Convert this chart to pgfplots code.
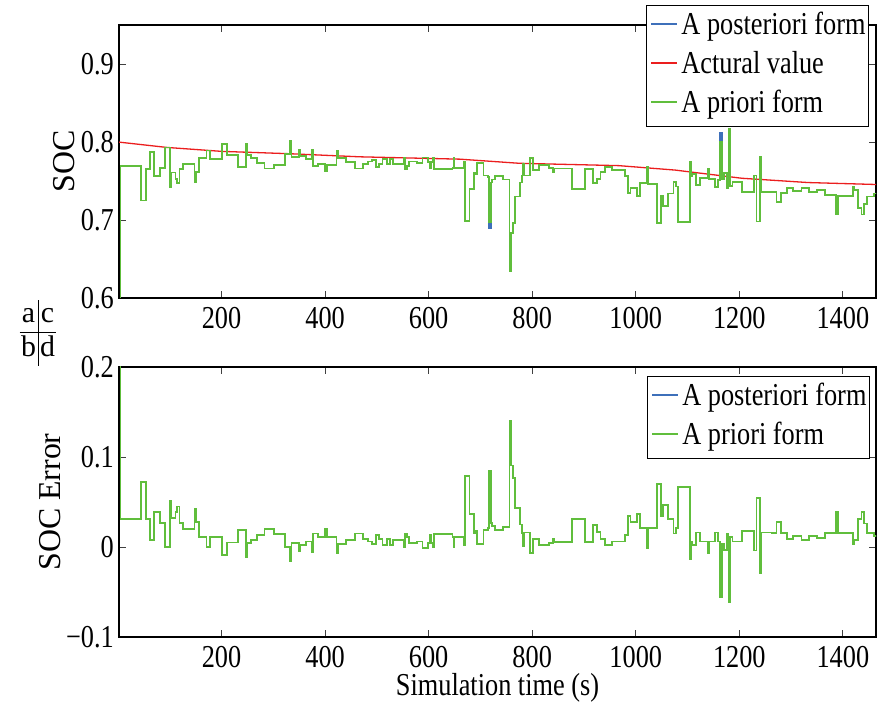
\documentclass[border=0pt]{standalone}
\usepackage{pgfplots}
\pgfplotsset{compat=1.18}
\usepackage{pgfplotstable}
\usepackage{fontspec}
\setmainfont[FakeStretch=0.825]{Liberation Serif}
\newfontfamily\plainserif{Liberation Serif}
\definecolor{postblue}{RGB}{62,112,186}
\definecolor{priogreen}{RGB}{96,190,60}
\definecolor{actred}{RGB}{235,30,30}

\pgfplotstableread{
x prio post eprio epost
0 0.580 0.580 0.2200 0.2200
5 0.769 0.769 0.0310 0.0310
44 0.725 0.725 0.0720 0.0720
54 0.765 0.765 0.0310 0.0310
62 0.787 0.787 0.0080 0.0080
69 0.756 0.756 0.0390 0.0390
81 0.767 0.767 0.0270 0.0270
91 0.793 0.793 0.0000 0.0000
100 0.742 0.742 0.0510 0.0510
102 0.761 0.761 0.0320 0.0320
111 0.753 0.753 0.0390 0.0390
114 0.747 0.747 0.0450 0.0450
119 0.765 0.765 0.0270 0.0270
126 0.772 0.772 0.0200 0.0200
148 0.749 0.749 0.0420 0.0420
150 0.762 0.762 0.0280 0.0280
156 0.779 0.779 0.0115 0.0115
171 0.789 0.789 0.0000 0.0000
177 0.778 0.778 0.0110 0.0110
201 0.797 0.797 -0.0090 -0.0090
210 0.783 0.783 0.0050 0.0050
232 0.768 0.768 0.0190 0.0190
248 0.798 0.798 -0.0110 -0.0110
250 0.783 0.783 0.0040 0.0040
257 0.779 0.779 0.0080 0.0080
269 0.773 0.773 0.0130 0.0130
283 0.766 0.766 0.0200 0.0200
301 0.771 0.771 0.0145 0.0145
322 0.785 0.785 0.0000 0.0000
333 0.801 0.801 -0.0160 -0.0160
335 0.781 0.781 0.0040 0.0040
349 0.790 0.790 -0.0050 -0.0050
351 0.782 0.782 0.0020 0.0020
363 0.778 0.778 0.0060 0.0060
374 0.790 0.790 -0.0060 -0.0060
377 0.769 0.769 0.0150 0.0150
387 0.772 0.772 0.0115 0.0115
400 0.763 0.763 0.0200 0.0200
403 0.771 0.771 0.0115 0.0115
422 0.789 0.789 -0.0070 -0.0070
425 0.779 0.779 0.0030 0.0030
440 0.774 0.774 0.0080 0.0080
458 0.766 0.766 0.0150 0.0150
473 0.772 0.772 0.0085 0.0085
483 0.775 0.775 0.0060 0.0060
490 0.777 0.777 0.0035 0.0035
498 0.768 0.768 0.0130 0.0130
504 0.772 0.772 0.0085 0.0085
511 0.778 0.778 0.0020 0.0020
519 0.772 0.772 0.0085 0.0085
526 0.778 0.778 0.0025 0.0025
531 0.772 0.772 0.0080 0.0080
552 0.780 0.780 -0.0005 -0.0005
554 0.765 0.765 0.0150 0.0150
558 0.769 0.769 0.0110 0.0110
562 0.775 0.775 0.0045 0.0045
578 0.773 0.773 0.0060 0.0060
588 0.780 0.780 -0.0010 -0.0010
599 0.774 0.774 0.0045 0.0045
602 0.766 0.766 0.0130 0.0130
605 0.774 0.774 0.0045 0.0045
609 0.779 0.779 -0.0005 -0.0005
611 0.765 0.765 0.0140 0.0140
646 0.767 0.767 0.0110 0.0110
648 0.779 0.779 -0.0005 -0.0005
650 0.767 0.767 0.0110 0.0110
669 0.775 0.775 0.0025 0.0025
670 0.699 0.699 0.0786 0.0786
679 0.740 0.740 0.0370 0.0370
687 0.761 0.761 0.0155 0.0155
690 0.759 0.759 0.0180 0.0180
693 0.773 0.773 0.0035 0.0035
706 0.757 0.757 0.0190 0.0190
715 0.755 0.755 0.0210 0.0210
717 0.697 0.690 0.0850 0.0850
720 0.748 0.748 0.0270 0.0270
723 0.752 0.752 0.0230 0.0230
728 0.756 0.756 0.0185 0.0185
743 0.752 0.752 0.0225 0.0225
756 0.634 0.634 0.1400 0.1400
759 0.683 0.683 0.0905 0.0905
763 0.696 0.696 0.0770 0.0770
767 0.730 0.730 0.0430 0.0430
776 0.748 0.748 0.0250 0.0250
780 0.757 0.757 0.0155 0.0155
782 0.772 0.772 0.0010 0.0010
785 0.757 0.757 0.0160 0.0160
796 0.779 0.779 -0.0070 -0.0070
801 0.764 0.764 0.0085 0.0085
813 0.770 0.770 0.0025 0.0025
833 0.767 0.767 0.0045 0.0045
840 0.762 0.762 0.0095 0.0095
843 0.766 0.766 0.0055 0.0055
877 0.740 0.740 0.0310 0.0310
902 0.765 0.765 0.0055 0.0055
918 0.747 0.747 0.0240 0.0240
925 0.753 0.753 0.0170 0.0170
932 0.762 0.762 0.0085 0.0085
940 0.768 0.768 0.0025 0.0025
954 0.764 0.764 0.0060 0.0060
980 0.756 0.756 0.0130 0.0130
985 0.735 0.735 0.0340 0.0340
990 0.741 0.741 0.0280 0.0280
1003 0.731 0.731 0.0370 0.0370
1008 0.747 0.747 0.0210 0.0210
1022 0.768 0.768 -0.0015 -0.0015
1024 0.746 0.746 0.0210 0.0210
1041 0.696 0.696 0.0700 0.0700
1049 0.731 0.731 0.0340 0.0340
1052 0.718 0.718 0.0470 0.0470
1063 0.734 0.734 0.0310 0.0310
1073 0.749 0.749 0.0150 0.0150
1077 0.743 0.743 0.0210 0.0210
1081 0.697 0.697 0.0670 0.0670
1104 0.775 0.775 -0.0130 -0.0130
1106 0.756 0.756 0.0060 0.0060
1108 0.759 0.759 0.0020 0.0020
1116 0.745 0.745 0.0160 0.0160
1124 0.754 0.754 0.0060 0.0060
1139 0.766 0.766 -0.0070 -0.0070
1141 0.753 0.753 0.0060 0.0060
1153 0.742 0.742 0.0160 0.0160
1159 0.751 0.751 0.0060 0.0060
1163 0.800 0.812 -0.0555 -0.0555
1166 0.753 0.753 0.0035 0.0035
1171 0.760 0.760 -0.0035 -0.0035
1176 0.741 0.741 0.0150 0.0150
1179 0.817 0.817 -0.0610 -0.0610
1182 0.744 0.744 0.0110 0.0110
1187 0.749 0.749 0.0060 0.0060
1205 0.736 0.736 0.0180 0.0180
1229 0.757 0.757 -0.0040 -0.0040
1233 0.698 0.698 0.0540 0.0540
1240 0.781 0.781 -0.0290 -0.0290
1243 0.736 0.736 0.0160 0.0160
1262 0.736 0.736 0.0155 0.0155
1272 0.723 0.723 0.0280 0.0280
1281 0.735 0.735 0.0155 0.0155
1292 0.741 0.741 0.0085 0.0085
1303 0.737 0.737 0.0125 0.0125
1320 0.741 0.741 0.0080 0.0080
1335 0.736 0.736 0.0120 0.0120
1350 0.738 0.738 0.0100 0.0100
1365 0.732 0.732 0.0155 0.0155
1387 0.708 0.708 0.0390 0.0390
1390 0.731 0.731 0.0155 0.0155
1419 0.743 0.743 0.0035 0.0035
1422 0.738 0.738 0.0080 0.0080
1429 0.715 0.715 0.0310 0.0310
1436 0.707 0.707 0.0390 0.0390
1441 0.720 0.720 0.0260 0.0260
1446 0.730 0.730 0.0155 0.0155
1460 0.734 0.734 0.0120 0.0120
1470 0.734 0.734 0.0120 0.0120
}\socdata

\pgfplotstableread{
x act
0 0.800
95 0.793
200 0.788
330 0.785
467 0.781
660 0.778
775 0.7727
967 0.7697
1076 0.764
1205 0.7535
1333 0.748
1470 0.7454
}\actdata

\newcommand{\legline}[1]{\textcolor{#1}{\rule[9.8bp]{26bp}{1.7bp}}\hspace{4bp}}

\tikzset{
  mylegend/.style={draw=black, line width=1bp, fill=white, anchor=north east,
    inner xsep=2bp, inner ysep=2bp, font=\fontsize{32}{39}\selectfont},
}

\pgfplotsset{
  every axis/.append style={
    font=\fontsize{32}{38}\selectfont,
    scale only axis,
    width=757bp,
    xmin=2, xmax=1464,
    axis line style={black, line width=1.2bp},
    major tick style={black!75, line width=0.8bp},
    major tick length=7bp,
    tick align=inside,
    xtick={200,400,600,800,1000,1200,1400},
    xticklabels={200,400,600,800,1000,1200,1400},
    xticklabel style={anchor=north, inner sep=0pt, yshift=-9bp},
    yticklabel style={anchor=east, inner sep=0pt, xshift=-5bp},
    ylabel style={font=\plainserif\fontsize{32}{38}\selectfont, anchor=center},
  },
}

\begin{document}
\begin{tikzpicture}
\useasboundingbox (0,0) rectangle (878bp,707bp);
\begin{axis}[
  at={(119bp,409bp)}, anchor=south west,
  height=273bp,
  ymin=0.6, ymax=0.95,
  ytick={0.6,0.7,0.8,0.9},
  yticklabels={0.6,0.7,0.8,0.9},
  ylabel={SOC},
  every axis y label/.append style={at={(axis description cs:-0.0727,0.5)}},
  clip mode=individual,
]
\addplot[const plot mark left, color=postblue, line width=1.8bp] table[x=x, y=post] {\socdata};
\addplot[color=actred, line width=1.3bp] table[x=x, y=act] {\actdata};
\addplot[const plot mark left, color=priogreen, line width=1.8bp] table[x=x, y=prio] {\socdata};
\node[mylegend] at (rel axis cs:0.9908,1.0733) {%
  \begin{tabular}{@{\hspace{3bp}}l@{\hspace{1bp}}}
  \legline{postblue}A posteriori form\\
  \legline{actred}Actural value\\
  \legline{priogreen}A priori form
  \end{tabular}};
\end{axis}

\begin{axis}[
  at={(119bp,70bp)}, anchor=south west,
  height=270bp,
  ymin=-0.1, ymax=0.2,
  ytick={-0.1,0,0.1,0.2},
  yticklabels={−0.1,0,0.1,0.2},
  ylabel={SOC Error},
  every axis y label/.append style={at={(axis description cs:-0.0911,0.5)}},
  xlabel={Simulation time (s)},
  every axis x label/.append style={at={(axis description cs:0.5,-0.215)}, anchor=base, inner sep=0pt},
  clip mode=individual,
]
\addplot[const plot mark left, color=postblue, line width=1.8bp] table[x=x, y=epost] {\socdata};
\addplot[const plot mark left, color=priogreen, line width=1.8bp] table[x=x, y=eprio] {\socdata};
\node[mylegend] at (rel axis cs:0.992,0.9667) {%
  \begin{tabular}{@{\hspace{3bp}}l@{\hspace{1bp}}}
  \legline{postblue}A posteriori form\\
  \legline{priogreen}A priori form
  \end{tabular}};
\end{axis}

\node[inner sep=0pt, font=\plainserif\fontsize{30}{34}\selectfont] at (38bp,374bp)
  {\setlength{\tabcolsep}{1.5bp}\renewcommand{\arraystretch}{0.95}\setlength{\arrayrulewidth}{1bp}\begin{tabular}{c|c}a&c\\\hline b&d\end{tabular}};
\end{tikzpicture}
\end{document}
